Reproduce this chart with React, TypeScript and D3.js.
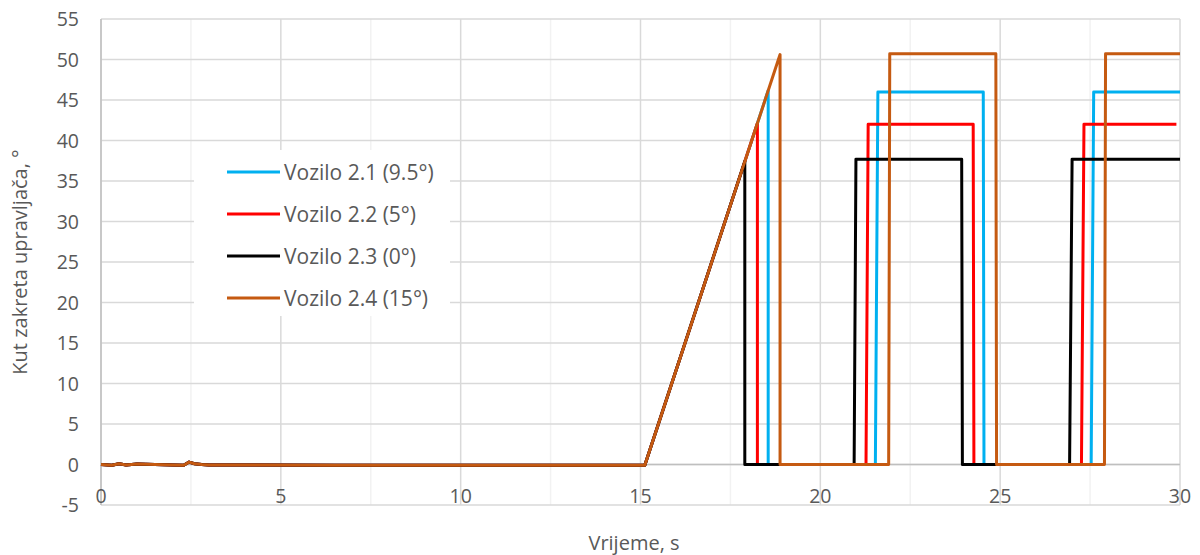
import React from "react";
import * as d3 from "d3";

const xTicks = [0, 5, 10, 15, 20, 25, 30];
const yTicks = [-5, 0, 5, 10, 15, 20, 25, 30, 35, 40, 45, 50, 55];
const seriesNames = ["Vozilo 2.1 (9.5°)", "Vozilo 2.2 (5°)", "Vozilo 2.3 (0°)", "Vozilo 2.4 (15°)"];
const seriesColors = ["#00b0f0", "#ff0000", "#000000", "#c55a11"];

// common initial part (time, angle)
const startT = [0, 0.3, 0.5, 0.7, 1.0, 1.5, 2.0, 2.3, 2.45, 2.6, 2.8, 3.0, 6.5, 15.12];
const startV = [0, -0.1, 0.1, -0.05, 0.05, 0, -0.05, -0.1, 0.3, 0.1, 0, -0.05, -0.1, -0.1];

const rampSlope = 13.46; // deg/s during ramp from 15.12

// series 2.1
const s1T = [18.55, 18.56, 21.53, 21.6, 24.53, 24.55, 27.53, 27.6, 30];
const s1V = [0, 0, 0, 46.0, 46.0, 0, 0, 46.0, 46.0];
// series 2.2
const s2T = [18.25, 18.26, 21.27, 21.33, 24.25, 24.27, 27.26, 27.33, 29.9];
const s2V = [0, 0, 0, 42.0, 42.0, 0, 0, 42.0, 42.0];
// series 2.3
const s3T = [17.9, 17.91, 20.94, 20.99, 23.93, 23.95, 26.93, 27.0, 30];
const s3V = [0, 0, 0, 37.7, 37.7, 0, 0, 37.7, 37.7];
// series 2.4
const s4T = [18.88, 18.9, 21.9, 21.93, 24.88, 24.9, 27.9, 27.93, 30];
const s4V = [0, 0, 0, 50.7, 50.7, 0, 0, 50.7, 50.7];

const seriesT = [s1T, s2T, s3T, s4T];
const seriesV = [s1V, s2V, s3V, s4V];

function buildSeries(i: number): [number, number][] {
  const pts: [number, number][] = startT.map((t, k) => [t, startV[k]]);
  const tPeak = seriesT[i][0];
  pts.push([tPeak, rampSlope * (tPeak - 15.12)]);
  seriesT[i].forEach((t, k) => pts.push([t, seriesV[i][k]]));
  return pts;
}

export default function App() {
  const W = 1200, H = 555;
  const x = d3.scaleLinear().domain([0, 30]).range([101, 1180]);
  const y = d3.scaleLinear().domain([-5, 55]).range([505, 19]);
  const line = d3.line<[number, number]>().x(d => x(d[0])).y(d => y(d[1]));
  const minor = d3.range(2.5, 30, 5);
  const font = "'Open Sans', sans-serif";
  const tc = "#595959";
  return (
    <svg width={W} height={H} style={{ position: "absolute", left: 0, top: 0, background: "#fff" }} fontFamily={font}>
      {minor.map(t => (
        <line key={"m" + t} x1={x(t)} x2={x(t)} y1={y(55)} y2={y(-5)} stroke="#f2f2f2" strokeWidth={1.5} />
      ))}
      {xTicks.map(t => (
        <line key={"vx" + t} x1={x(t)} x2={x(t)} y1={y(55)} y2={y(-5)} stroke="#d9d9d9" strokeWidth={1.5} />
      ))}
      {yTicks.map(t => (
        <line key={"hy" + t} x1={x(0)} x2={x(30)} y1={y(t)} y2={y(t)} stroke="#d9d9d9" strokeWidth={1.5} />
      ))}
      <line x1={x(0)} x2={x(0)} y1={y(55)} y2={y(-5)} stroke="#bfbfbf" strokeWidth={1.5} />
      <line x1={x(0)} x2={x(30)} y1={y(0)} y2={y(0)} stroke="#bfbfbf" strokeWidth={1.5} />
      {yTicks.map(t => (
        <text key={"yl" + t} x={79} y={y(t)} dy="0.36em" textAnchor="end" fontSize={19.5} fill={tc}>{t}</text>
      ))}
      {xTicks.map(t => (
        <text key={"xl" + t} x={x(t)} y={503} textAnchor="middle" fontSize={19.5} fill={tc}>{t}</text>
      ))}
      <text x={634} y={550} textAnchor="middle" fontSize={20} fill={tc}>Vrijeme, s</text>
      <text transform="translate(27,262) rotate(-90)" textAnchor="middle" fontSize={20} fill={tc}>Kut zakreta upravljača, °</text>
      {seriesNames.map((n, i) => (
        <path key={"s" + i} d={line(buildSeries(i)) || ""} fill="none" stroke={seriesColors[i]} strokeWidth={3} strokeLinejoin="round" />
      ))}
      <rect x={194} y={150} width={256} height={166} fill="#fff" />
      {seriesNames.map((n, i) => (
        <g key={"lg" + i} transform={`translate(227,${172 + i * 42})`}>
          <line x1={0} x2={53} y1={0} y2={0} stroke={seriesColors[i]} strokeWidth={3} />
          <text x={57} y={0} dy="0.36em" fontSize={21} fill={tc}>{n}</text>
        </g>
      ))}
    </svg>
  );
}
